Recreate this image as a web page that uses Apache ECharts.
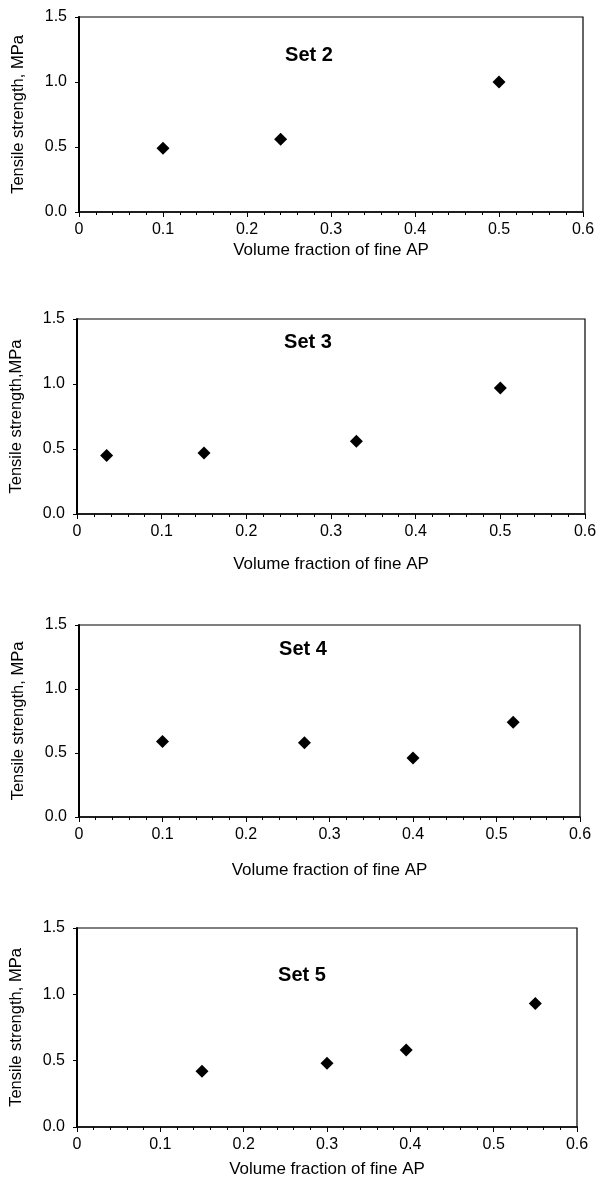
<!DOCTYPE html>
<html>
<head>
<meta charset="utf-8">
<script src="https://cdn.jsdelivr.net/npm/echarts@6/dist/echarts.min.js"></script>
<style>
  html, body { margin: 0; padding: 0; background: #fff; }
  #chart { width: 600px; height: 1189px; }
</style>
</head>
<body>
<div id="chart"></div>
<script>
// Tensile strength vs. volume fraction of fine AP, four sets
const setNames = ['Set 2', 'Set 3', 'Set 4', 'Set 5'];
const yAxisTitles = ['Tensile strength, MPa', 'Tensile strength,MPa', 'Tensile strength, MPa', 'Tensile strength, MPa'];
const xAxisTitle = 'Volume fraction of fine AP';

const set2X = [0.1, 0.24, 0.5];
const set2Y = [0.49, 0.56, 1.0];
const set3X = [0.035, 0.15, 0.33, 0.5];
const set3Y = [0.45, 0.47, 0.56, 0.97];
const set4X = [0.1, 0.27, 0.4, 0.52];
const set4Y = [0.59, 0.58, 0.46, 0.74];
const set5X = [0.15, 0.3, 0.395, 0.55];
const set5Y = [0.42, 0.48, 0.58, 0.93];

const xTickValues = [0, 0.1, 0.2, 0.3, 0.4, 0.5, 0.6];
const yTickValues = [0.0, 0.5, 1.0, 1.5];

const seriesX = [set2X, set3X, set4X, set5X];
const seriesY = [set2Y, set3Y, set4Y, set5Y];

// panel boxes in px: left, top, width, height
const panels = [
  { left: 79, top: 17, width: 504, height: 195, xNameGap: 30, setX: 304, setY: 40 },
  { left: 77, top: 319, width: 508, height: 195, xNameGap: 42, setX: 303, setY: 327 },
  { left: 79, top: 625, width: 501, height: 192, xNameGap: 45, setX: 298, setY: 634 },
  { left: 77, top: 928, width: 500, height: 199, xNameGap: 34, setX: 297, setY: 960 }
];

const FONT = '"Liberation Sans", Arial, sans-serif';

const grids = [], xAxes = [], yAxes = [], series = [], titles = [];
panels.forEach((p, i) => {
  grids.push({
    left: p.left, top: p.top, width: p.width, height: p.height,
    show: true, borderColor: '#000', borderWidth: 1.2, backgroundColor: 'transparent'
  });
  xAxes.push({
    gridIndex: i, type: 'value',
    min: xTickValues[0], max: xTickValues[xTickValues.length - 1], interval: 0.1,
    name: xAxisTitle, nameLocation: 'middle', nameGap: p.xNameGap,
    nameTextStyle: { fontFamily: FONT, fontSize: 17, color: '#000' },
    axisLine: { show: true, onZero: false, lineStyle: { color: '#000', width: 1.5 } },
    axisTick: { show: true, length: 5, lineStyle: { color: '#000', width: 1 } },
    minorTick: { show: true, splitNumber: 5, length: 3, lineStyle: { color: '#000', width: 1 } },
    splitLine: { show: false },
    axisLabel: {
      margin: 10, fontFamily: FONT, fontSize: 16, color: '#000',
      formatter: v => (Math.abs(v) < 1e-9 ? '0' : String(+v.toFixed(1)))
    }
  });
  yAxes.push({
    gridIndex: i, type: 'value',
    min: yTickValues[0], max: yTickValues[yTickValues.length - 1], interval: 0.5,
    name: yAxisTitles[i], nameLocation: 'middle', nameGap: 52, nameRotate: 90,
    nameTextStyle: { fontFamily: FONT, fontSize: 16.5, color: '#000' },
    axisLine: { show: true, onZero: false, lineStyle: { color: '#000', width: 2 } },
    axisTick: { show: true, length: 4, lineStyle: { color: '#000', width: 1 } },
    splitLine: { show: false },
    axisLabel: {
      margin: 12, fontFamily: FONT, fontSize: 16, color: '#000',
      formatter: v => v.toFixed(1)
    }
  });
  series.push({
    type: 'scatter', xAxisIndex: i, yAxisIndex: i,
    symbol: 'diamond', symbolSize: 13,
    itemStyle: { color: '#000', opacity: 1 },
    data: seriesX[i].map((x, k) => [x, seriesY[i][k]])
  });
  titles.push({
    text: setNames[i], left: p.setX, top: p.setY, textAlign: 'center',
    textStyle: { fontFamily: FONT, fontSize: 20, fontWeight: 'bold', color: '#000' }
  });
});

const chart = echarts.init(document.getElementById('chart'), null, { renderer: 'canvas' });
chart.setOption({
  backgroundColor: '#fff',
  animation: false,
  title: titles,
  grid: grids,
  xAxis: xAxes,
  yAxis: yAxes,
  series: series
});
</script>
</body>
</html>
